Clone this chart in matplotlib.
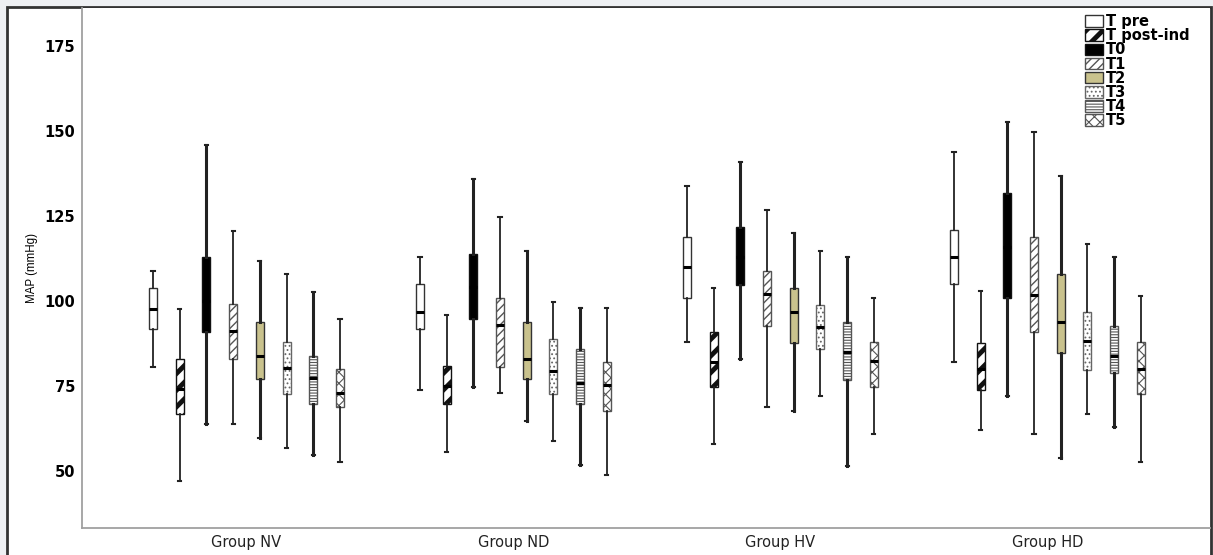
import matplotlib.pyplot as plt
from matplotlib.patches import Patch, Rectangle

# Dados (MAP, mmHg)
groups = ["Group NV", "Group ND", "Group HV", "Group HD"]
times = ["T pre", "T post-ind", "T0", "T1", "T2", "T3", "T4", "T5"]

# cada linha: [whislo, q1, mediana, q3, whishi] para NV, ND, HV, HD
t_pre = [[80.7, 91.8, 97.7, 103.7, 108.8], [73.8, 91.8, 96.9, 104.9, 112.9],
         [87.9, 100.8, 109.9, 118.9, 133.9], [81.9, 104.9, 112.9, 120.9, 143.9]]
t_post = [[46.9, 66.7, 74.0, 82.8, 97.7], [55.7, 69.7, 75.0, 80.9, 95.9],
          [57.8, 74.8, 82.0, 90.8, 103.7], [61.9, 73.8, 80.0, 87.7, 102.8]]
t0 = [[63.8, 90.8, 100.0, 113.0, 145.9], [74.8, 94.7, 104.0, 113.8, 135.9],
      [82.8, 104.7, 113.0, 121.9, 140.8], [71.9, 100.8, 116.0, 131.9, 152.6]]
t1 = [[63.8, 82.8, 91.3, 99.0, 120.6], [72.8, 80.7, 92.9, 100.8, 124.8],
      [68.9, 92.7, 102.0, 108.9, 126.8], [60.9, 90.8, 101.8, 118.9, 149.8]]
t2 = [[59.8, 77.0, 83.8, 93.8, 111.8], [64.8, 77.0, 82.9, 93.7, 114.8],
      [67.7, 87.7, 96.9, 103.9, 119.9], [53.7, 84.8, 93.9, 107.9, 136.8]]
t3 = [[56.7, 72.6, 80.3, 88.0, 107.8], [58.8, 72.6, 79.4, 88.7, 99.8],
      [71.9, 85.8, 92.3, 98.8, 114.8], [66.8, 79.7, 88.3, 96.9, 116.8]]
t4 = [[54.7, 69.7, 77.4, 83.8, 102.7], [51.8, 69.7, 75.8, 85.8, 97.8],
      [51.5, 76.8, 84.9, 93.9, 113.0], [62.9, 78.7, 83.8, 92.7, 112.9]]
t5 = [[52.7, 68.7, 72.8, 79.9, 94.7], [48.8, 67.7, 75.3, 81.9, 97.8],
      [60.8, 74.8, 82.4, 88.0, 100.8], [52.5, 72.5, 80.0, 88.0, 101.5]]
values = [t_pre, t_post, t0, t1, t2, t3, t4, t5]

# estilo de cada tempo: (cor, hachura, cor da borda/hachura, espessura hachura, espessura whisker)
styles = [
    ("white", "", "#333333", 1.0, 1.3),
    ("white", "//", "#111111", 3.5, 1.3),
    ("black", "", "#111111", 1.0, 2.2),
    ("white", "////", "#555555", 1.0, 1.3),
    ("#c9c28d", "", "#333333", 1.0, 2.2),
    ("white", "....", "#666666", 0.8, 1.3),
    ("white", "------", "#555555", 0.8, 2.2),
    ("white", "xxx", "#555555", 0.8, 1.3),
]

fig = plt.figure(figsize=(12.13, 5.55), dpi=100, facecolor="#eef0f3")
fig.patches.append(Rectangle((7 / 1213, -0.05), 1204 / 1213, 548 / 555 + 0.05,
                             transform=fig.transFigure, facecolor="white",
                             edgecolor="#333333", linewidth=2, zorder=-10))
ax = fig.add_axes([82 / 1213, 27 / 555, 1128 / 1213, 520 / 555])
ax.set_zorder(1)
ax.set_facecolor("white")

legend_handles = []
for k, (data, st) in enumerate(zip(values, styles)):
    face, hatch, edge, hlw, wlw = st
    stats = []
    for g, v in enumerate(data):
        stats.append({"whislo": v[0], "q1": v[1], "med": v[2], "q3": v[3], "whishi": v[4]})
    pos = [g + (k - 3.5) * 0.1 for g in range(len(groups))]
    plt.rcParams["hatch.linewidth"] = hlw
    bp = ax.bxp(stats, positions=pos, widths=0.03, patch_artist=True, showfliers=False,
                capwidths=0.012, manage_ticks=False,
                boxprops=dict(facecolor=face, edgecolor=edge, hatch=hatch, linewidth=1.0),
                medianprops=dict(color="black", linewidth=2.2),
                whiskerprops=dict(color="#222222", linewidth=wlw),
                capprops=dict(color="#222222", linewidth=1.5))
    for b in bp["boxes"]:
        if hasattr(b, "set_hatch_linewidth"):
            b.set_hatch_linewidth(hlw)
    legend_handles.append(Patch(facecolor=face, edgecolor=edge, hatch=hatch,
                                linewidth=1.0, label=times[k]))

ax.set_xlim(-0.616, 3.609)
ax.set_ylim(33.2, 186.2)
ax.set_yticks([50, 75, 100, 125, 150, 175])
ax.set_xticks(range(len(groups)))
ax.set_xticklabels(groups, fontsize=10.5, color="#222222")
ax.tick_params(axis="y", length=0, pad=5)
ax.tick_params(axis="x", length=0, pad=5)
for lab in ax.get_yticklabels():
    lab.set_fontweight("bold")
    lab.set_fontsize(10.5)
ax.set_ylabel("MAP (mmHg)", family="Liberation Sans", fontsize=8.3)
ax.yaxis.set_label_coords(-0.039, 0.5)

for s in ["top", "right"]:
    ax.spines[s].set_visible(False)
for s in ["left", "bottom"]:
    ax.spines[s].set_color("#a0a0a0")
    ax.spines[s].set_linewidth(1.3)

leg = ax.legend(handles=legend_handles, loc="upper right", bbox_to_anchor=(0.99, 1.005),
                frameon=False, prop={"weight": "bold", "size": 10.5},
                handlelength=1.25, handleheight=0.85, handletextpad=0.2, labelspacing=-0.06,
                borderaxespad=0.2)
for p, st in zip(leg.get_patches(), styles):
    if hasattr(p, "set_hatch_linewidth"):
        p.set_hatch_linewidth(st[3])

fig.savefig("out.png", dpi=100, facecolor=fig.get_facecolor())
